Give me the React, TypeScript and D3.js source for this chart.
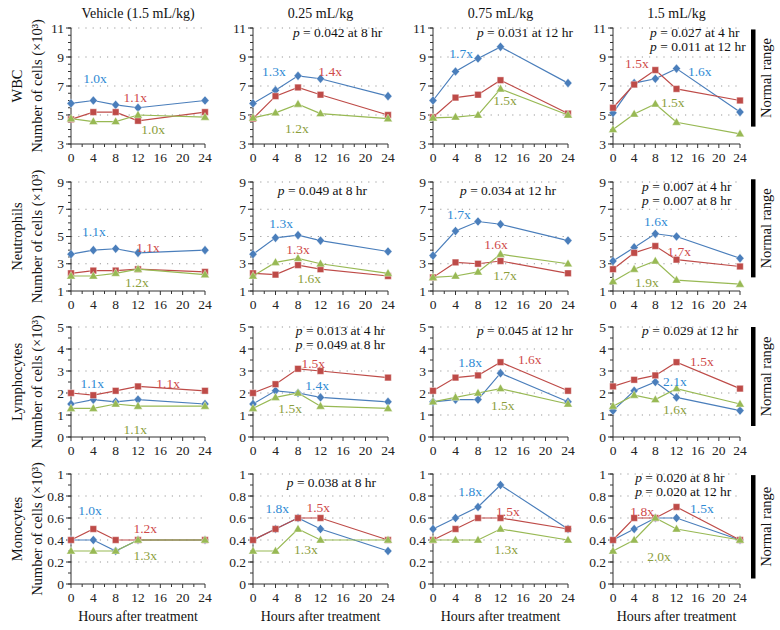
import React from "react";
import * as d3 from "d3";

// ---------- data ----------
const hours = [0, 4, 8, 12, 24];
const doseTitles = ["Vehicle (1.5 mL/kg)", "0.25 mL/kg", "0.75 mL/kg", "1.5 mL/kg"];
const cellTypes = ["WBC", "Neutrophils", "Lymphocytes", "Monocytes"];
const xTicks = [0, 4, 8, 12, 16, 20, 24];
const xMinorTicks = [2, 6, 10, 14, 18, 22];
const yDomains = [[3, 11], [1, 9], [0, 5], [0, 1]];
const yMajorTicks = [[3, 5, 7, 9, 11], [1, 3, 5, 7, 9], [0, 1, 2, 3, 4, 5], [0, 0.2, 0.4, 0.6, 0.8, 1]];
const yTickLabels = [["3", "5", "7", "9", "11"], ["1", "3", "5", "7", "9"], ["0", "1", "2", "3", "4", "5"], ["0", "0.2", "0.4", "0.6", "0.8", "1"]];
const yMinorStep = [0.5, 0.5, 0.5, 0.1];
const normalRanges = [[4.2, 10.9], [2.0, 9.2], [0.5, 5.0], [0.05, 0.99]];

// values [row][dose][hour]
const blueValues = [
  [[5.8, 6.0, 5.7, 5.5, 6.0], [5.8, 6.7, 7.7, 7.5, 6.3], [6.0, 8.0, 8.9, 9.7, 7.2], [5.15, 7.2, 7.5, 8.2, 5.2]],
  [[3.7, 4.0, 4.1, 3.8, 4.0], [3.7, 4.9, 5.1, 4.7, 3.9], [3.6, 5.4, 6.1, 5.9, 4.7], [3.2, 4.2, 5.2, 5.0, 3.4]],
  [[1.5, 1.7, 1.6, 1.7, 1.5], [1.5, 2.1, 2.0, 1.8, 1.6], [1.6, 1.7, 1.7, 2.9, 1.6], [1.2, 2.1, 2.5, 1.8, 1.2]],
  [[0.4, 0.4, 0.3, 0.4, 0.4], [0.4, 0.5, 0.6, 0.5, 0.3], [0.5, 0.6, 0.7, 0.9, 0.5], [0.4, 0.5, 0.6, 0.6, 0.4]],
];
const redValues = [
  [[4.7, 5.2, 5.2, 4.6, 5.2], [4.75, 6.3, 6.9, 6.4, 5.0], [4.85, 6.2, 6.4, 7.4, 5.1], [5.5, 7.1, 8.1, 6.8, 6.0]],
  [[2.3, 2.5, 2.5, 2.6, 2.4], [2.3, 2.2, 2.9, 2.6, 2.1], [2.0, 3.1, 3.0, 3.2, 2.3], [2.6, 3.8, 4.3, 3.3, 2.8]],
  [[2.0, 1.9, 2.1, 2.3, 2.1], [2.0, 2.4, 3.1, 3.0, 2.7], [2.1, 2.7, 2.8, 3.4, 2.1], [2.3, 2.6, 2.8, 3.4, 2.2]],
  [[0.4, 0.5, 0.4, 0.4, 0.4], [0.4, 0.5, 0.6, 0.6, 0.4], [0.4, 0.5, 0.6, 0.6, 0.5], [0.4, 0.6, 0.6, 0.7, 0.4]],
];
const greenValues = [
  [[4.75, 4.55, 4.55, 5.0, 4.85], [4.8, 5.15, 5.75, 5.1, 4.75], [4.8, 4.86, 5.0, 6.8, 5.0], [4.0, 5.07, 5.76, 4.5, 3.7]],
  [[2.1, 2.1, 2.3, 2.6, 2.2], [2.1, 3.1, 3.4, 3.0, 2.3], [2.0, 2.1, 2.4, 3.7, 3.0], [1.7, 2.6, 3.2, 1.8, 1.5]],
  [[1.3, 1.3, 1.5, 1.4, 1.4], [1.3, 1.8, 2.0, 1.4, 1.3], [1.6, 1.8, 2.0, 2.2, 1.5], [1.4, 1.9, 1.7, 2.2, 1.5]],
  [[0.3, 0.3, 0.3, 0.4, 0.4], [0.3, 0.3, 0.5, 0.4, 0.4], [0.4, 0.4, 0.4, 0.5, 0.4], [0.3, 0.4, 0.6, 0.5, 0.4]],
];

// fold-change labels: [row, col, series(0 blue,1 red,2 green), text, hour, value]
const foldLabels: [number, number, number, string, number, number][] = [
  [0, 0, 0, "1.0x", 4.3, 7.55], [0, 0, 1, "1.1x", 11.5, 6.24], [0, 0, 2, "1.0x", 14.7, 4.03],
  [0, 1, 0, "1.3x", 3.7, 8.03], [0, 1, 1, "1.4x", 13.7, 8.03], [0, 1, 2, "1.2x", 7.8, 4.1],
  [0, 2, 0, "1.7x", 5.0, 9.28], [0, 2, 2, "1.5x", 12.8, 6.03],
  [0, 3, 1, "1.5x", 4.5, 8.59], [0, 3, 0, "1.6x", 16.4, 8.03], [0, 3, 2, "1.5x", 11.3, 5.9],
  [1, 0, 0, "1.1x", 4.1, 5.4], [1, 0, 1, "1.1x", 13.8, 4.23], [1, 0, 2, "1.2x", 11.8, 1.66],
  [1, 1, 0, "1.3x", 5.0, 6.0], [1, 1, 1, "1.3x", 8.0, 4.08], [1, 1, 2, "1.6x", 10.0, 1.95],
  [1, 2, 0, "1.7x", 4.6, 6.65], [1, 2, 1, "1.6x", 11.2, 4.45], [1, 2, 2, "1.7x", 12.8, 2.17],
  [1, 3, 0, "1.6x", 8.1, 6.14], [1, 3, 1, "1.7x", 12.5, 3.94], [1, 3, 2, "1.9x", 6.4, 1.66],
  [2, 0, 0, "1.1x", 3.8, 2.45], [2, 0, 1, "1.1x", 17.4, 2.45], [2, 0, 2, "1.1x", 11.5, 0.36],
  [2, 1, 1, "1.5x", 10.7, 3.36], [2, 1, 0, "1.4x", 11.4, 2.36], [2, 1, 2, "1.5x", 6.6, 1.32],
  [2, 2, 0, "1.8x", 6.6, 3.41], [2, 2, 1, "1.6x", 17.2, 3.55], [2, 2, 2, "1.5x", 12.4, 1.45],
  [2, 3, 1, "1.5x", 16.8, 3.45], [2, 3, 0, "2.1x", 11.7, 2.55], [2, 3, 2, "1.6x", 11.7, 1.27],
  [3, 0, 0, "1.0x", 3.4, 0.67], [3, 0, 1, "1.2x", 13.3, 0.51], [3, 0, 2, "1.3x", 13.3, 0.26],
  [3, 1, 0, "1.8x", 4.3, 0.69], [3, 1, 1, "1.5x", 11.6, 0.7], [3, 1, 2, "1.3x", 9.4, 0.32],
  [3, 2, 0, "1.8x", 6.6, 0.84], [3, 2, 1, "1.5x", 13.3, 0.66], [3, 2, 2, "1.3x", 13.0, 0.32],
  [3, 3, 1, "1.8x", 5.5, 0.66], [3, 3, 0, "1.5x", 16.8, 0.69], [3, 3, 2, "2.0x", 8.7, 0.25],
];

// p-value notes: [row, col, lines, start hour, first-baseline value]
const pNotes: [number, number, string[], number, number][] = [
  [0, 1, ["0.042 at 8 hr"], 7.1, 10.38],
  [0, 2, ["0.031 at 12 hr"], 7.8, 10.38],
  [0, 3, ["0.027 at 4 hr", "0.011 at 12 hr"], 7.0, 10.38],
  [1, 1, ["0.049 at 8 hr"], 4.4, 8.05],
  [1, 2, ["0.034 at 12 hr"], 4.8, 8.05],
  [1, 3, ["0.007 at 4 hr", "0.007 at 8 hr"], 5.5, 8.34],
  [2, 1, ["0.013 at 4 hr", "0.049 at 8 hr"], 7.6, 4.64],
  [2, 2, ["0.045 at 12 hr"], 7.8, 4.64],
  [2, 3, ["0.029 at 12 hr"], 5.5, 4.64],
  [3, 1, ["0.038 at 8 hr"], 6.0, 0.88],
  [3, 3, ["0.020 at 8 hr", "0.020 at 12 hr"], 4.2, 0.927],
];

// ---------- layout & style ----------
const W = 780, H = 630;
const colX = [[71, 205], [253, 388], [433, 568], [613, 740]];
const rowY = [[144, 28], [291, 182], [437, 327], [584, 474]];
const lineColors = ["#4a7ebb", "#be4b48", "#98b954"];
const textColors = ["#2f8ad4", "#cf4a4a", "#8c9e3c"];
const FONT = "'Liberation Serif', 'DejaVu Serif', serif";
const symbols = [
  "M0,-4.6L4,0L0,4.6L-4,0Z",
  "M-3.3,-3.3H3.3V3.3H-3.3Z",
  "M0,-4.6L4.4,3L-4.4,3Z",
];

function Panel({ row, col }: { row: number; col: number }) {
  const x = d3.scaleLinear().domain([0, 24]).range(colX[col]);
  const y = d3.scaleLinear().domain(yDomains[row]).range(rowY[row]);
  const [y0, y1] = yDomains[row];
  const minor = d3.range(y0, y1 + 1e-9, yMinorStep[row]);
  const series = [blueValues[row][col], redValues[row][col], greenValues[row][col]];
  const line = d3.line<number>().x((_, i) => x(hours[i])).y((d) => y(d));
  const xl = colX[col][0], xr = colX[col][1];
  const yb = rowY[row][0], yt = rowY[row][1];
  return (
    <g>
      {yMajorTicks[row].slice(1).map((t) => (
        <line key={"g" + t} x1={xl} x2={xr} y1={y(t)} y2={y(t)} stroke="#9a9a9a" strokeWidth={1.1} strokeDasharray="1.2,6" />
      ))}
      {minor.map((t, i) => (
        <line key={"ym" + i} x1={xl - 3} x2={xl} y1={y(t)} y2={y(t)} stroke="#333" strokeWidth={1} />
      ))}
      {yMajorTicks[row].map((t, i) => (
        <g key={"yt" + i}>
          <line x1={xl - 5} x2={xl} y1={y(t)} y2={y(t)} stroke="#333" strokeWidth={1} />
          <text x={xl - 7} y={y(t)} dy="0.35em" textAnchor="end" fontSize={13.5} fontFamily={FONT} fill="#222">
            {yTickLabels[row][i]}
          </text>
        </g>
      ))}
      {xMinorTicks.map((t) => (
        <line key={"xm" + t} x1={x(t)} x2={x(t)} y1={yb} y2={yb + 3} stroke="#333" strokeWidth={1} />
      ))}
      {xTicks.map((t) => (
        <g key={"xt" + t}>
          <line x1={x(t)} x2={x(t)} y1={yb} y2={yb + 4} stroke="#333" strokeWidth={1} />
          <text x={x(t)} y={yb + 18} textAnchor="middle" fontSize={13.5} fontFamily={FONT} fill="#222">
            {t}
          </text>
        </g>
      ))}
      <line x1={xl} x2={xl} y1={yb} y2={yt} stroke="#333" strokeWidth={1} />
      <line x1={xl} x2={xr} y1={yb} y2={yb} stroke="#333" strokeWidth={1} />
      {series.map((vals, s) => (
        <g key={"s" + s}>
          <path d={line(vals) || ""} fill="none" stroke={lineColors[s]} strokeWidth={1.2} />
          {vals.map((v, i) => (
            <path key={i} d={symbols[s]} transform={`translate(${x(hours[i])},${y(v)})`} fill={lineColors[s]} stroke="#fff" strokeWidth={0.4} />
          ))}
        </g>
      ))}
      {foldLabels
        .filter((f) => f[0] === row && f[1] === col)
        .map((f, i) => (
          <text key={"f" + i} x={x(f[4])} y={y(f[5])} dy="0.35em" textAnchor="middle" fontSize={13.5} fontFamily={FONT} fill={textColors[f[2]]}>
            {f[3]}
          </text>
        ))}
      {pNotes
        .filter((p) => p[0] === row && p[1] === col)
        .map((p, i) => (
          <g key={"p" + i}>
            {p[2].map((ln, j) => (
              <text key={j} x={x(p[3])} y={y(p[4]) + j * 14} fontSize={13.5} fontFamily={FONT} fill="#111">
                <tspan fontStyle="italic">p</tspan>
                {" = " + ln}
              </text>
            ))}
          </g>
        ))}
    </g>
  );
}

export default function App() {
  return (
    <svg width={W} height={H} style={{ position: "absolute", left: 0, top: 0, background: "#fff" }}>
      {doseTitles.map((t, c) => (
        <text key={t} x={(colX[c][0] + colX[c][1]) / 2} y={18} textAnchor="middle" fontSize={14} fontFamily={FONT} fill="#111">
          {t}
        </text>
      ))}
      {cellTypes.map((name, r) => {
        const cy = (rowY[r][0] + rowY[r][1]) / 2;
        const yS = d3.scaleLinear().domain(yDomains[r]).range(rowY[r]);
        const [n0, n1] = normalRanges[r];
        return (
          <g key={name}>
            <text transform={`translate(17,${cy}) rotate(-90)`} dy="0.35em" textAnchor="middle" fontSize={14.5} fontFamily={FONT} fill="#111">
              {name}
            </text>
            <text transform={`translate(37,${cy}) rotate(-90)`} dy="0.35em" textAnchor="middle" fontSize={14.5} fontFamily={FONT} fill="#111">
              Number of cells (×10³)
            </text>
            <rect x={751} width={4.5} y={yS(n1)} height={yS(n0) - yS(n1)} fill="#000" />
            <text transform={`translate(766,${(yS(n0) + yS(n1)) / 2}) rotate(-90)`} dy="0.35em" textAnchor="middle" fontSize={14.5} fontFamily={FONT} fill="#111">
              Normal range
            </text>
            {doseTitles.map((_, c) => (
              <Panel key={c} row={r} col={c} />
            ))}
          </g>
        );
      })}
      {doseTitles.map((_, c) => (
        <text key={"xl" + c} x={(colX[c][0] + colX[c][1]) / 2} y={621} textAnchor="middle" fontSize={14} fontFamily={FONT} fill="#111">
          Hours after treatment
        </text>
      ))}
    </svg>
  );
}
